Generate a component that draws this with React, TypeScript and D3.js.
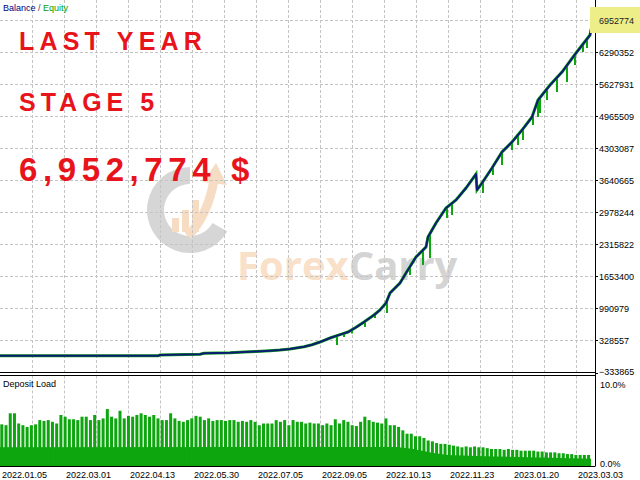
import React from 'react';
import * as d3 from 'd3';

// ---------- data ----------
const dateLabels = ["2022.01.05", "2022.03.01", "2022.04.13", "2022.05.30", "2022.07.05", "2022.09.05", "2022.10.13", "2022.11.23", "2023.01.20", "2023.03.03"];
const dateIdx = [0, 32, 64, 96, 128, 160, 192, 224, 256, 288];

const yTicks = [-333865, 328557, 990979, 1653400, 2315822, 2978244, 3640665, 4303087, 4965509, 5627931, 6290352, 6952774];

const balanceIdx = [0, 40, 79, 80, 100, 102, 115, 122, 128, 135, 140, 145, 152, 156, 160, 165, 170, 174, 178, 182, 187, 190, 193, 195, 200, 203, 208, 213, 214, 218, 223, 228, 233, 238, 238.5, 241, 246, 251, 256, 261, 266, 269, 275, 281, 288, 295, 296.5];
const balanceVal = [10000, 10000, 11000, 28000, 45000, 63000, 75000, 90000, 100000, 117000, 130000, 152000, 199000, 240000, 296000, 379000, 450000, 503000, 600000, 709000, 855000, 960000, 1102000, 1309000, 1516000, 1722000, 2053000, 2260000, 2467000, 2756000, 3066000, 3231000, 3480000, 3769000, 3438000, 3583000, 3893000, 4224000, 4430000, 4678000, 4947000, 5298000, 5608000, 5877000, 6270000, 6642000, 6952774];

const equityDipIdx = [168.5, 172, 176, 182.5, 187.5, 193.5, 205, 211.5, 215, 223.5, 226, 241.5, 246.5, 251, 256, 259, 261.5, 266.5, 269, 270, 273.5, 278.5, 283.5, 287.5, 291.5, 293.5];
const equityDipVal = [234000, 400000, 470000, 606000, 792000, 896000, 1681000, 1888000, 2033000, 2859000, 2921000, 3376000, 3748000, 3955000, 4265000, 4368000, 4471000, 4781000, 4947000, 5030000, 5298000, 5464000, 5670000, 6022000, 6290000, 6373000];

const depositLoad = [
  4.9, 4.8, 6.2, 6.2, 5.0, 4.8, 4.6, 4.8, 4.9, 5.4, 5.3, 5.4, 5.2, 5.0, 6.0, 5.8, 5.5, 5.5, 5.4, 5.8,
  5.8, 5.4, 6.0, 5.4, 5.6, 6.7, 5.8, 5.6, 6.5, 5.6, 5.9, 5.8, 6.0, 6.2, 6.0, 5.8, 6.0, 5.6, 5.4, 5.4,
  6.2, 5.6, 5.3, 5.2, 5.4, 5.6, 5.9, 5.8, 5.4, 5.6, 5.3, 5.4, 5.4, 5.3, 5.4, 5.4, 5.2, 5.3, 5.2, 5.4,
  5.2, 4.8, 5.0, 5.0, 5.0, 5.4, 5.2, 5.4, 4.8, 5.4, 5.2, 5.2, 5.0, 5.1, 5.0,
  5.0, 4.8, 5.0, 4.8, 5.5, 5.0, 5.4, 5.2, 4.8, 4.7, 5.2, 5.8, 5.4, 5.2, 5.1, 5.0, 5.6, 4.8, 4.8, 4.6,
  4.2, 3.8, 3.8, 3.5, 3.5, 3.3, 3.0, 2.9, 2.7, 2.6, 2.6, 2.5, 2.4, 2.3, 2.2, 2.3, 2.2, 2.3, 2.2, 2.2,
  2.1, 2.0, 2.0, 2.0, 1.9, 2.0, 1.9, 1.9, 1.8, 1.8, 1.8, 1.8, 1.7, 1.7, 1.6, 1.6, 1.6, 1.5, 1.5, 1.4,
  1.4, 1.3, 1.3, 1.3, 1.3
];
const depositBaseIdx = [0, 94, 98, 102, 106, 115, 140];
const depositBaseVal = [2.2, 2.25, 2.0, 1.6, 1.3, 1.15, 0.85];
const depositTicks = ["10.0%", "0.0%"];

const FONT = "'Liberation Sans', Arial, sans-serif";

export default function App() {
  const W = 640, H = 480;
  const plotR = 595;
  const mainBottom = 372.5;
  const subTop = 375.5, subBottom = 466;

  const x = d3.scaleLinear().domain([0, 297.5]).range([0, plotR]);
  const y = d3.scaleLinear().domain([yTicks[0], yTicks[yTicks.length - 1]]).range([mainBottom, 20]);
  const balInterp = d3.scaleLinear().domain(balanceIdx).range(balanceVal);

  const balPath = d3.line<number>()
    .x((_, i) => x(balanceIdx[i]))
    .y(d => y(d))(balanceVal) || '';

  const dx = d3.scaleLinear().domain([0, depositLoad.length]).range([0, 591]);
  const dy = d3.scaleLinear().domain([0, 10]).range([subBottom, 381]);
  const baseArea = d3.area<number>()
    .x((_, i) => dx(depositBaseIdx[i]))
    .y0(dy(0))
    .y1(d => dy(d))(depositBaseVal) || '';

  const vGrid = d3.range(16, 297, 16);
  const green = '#0ea60e';

  const ring = d3.arc()({ innerRadius: 26, outerRadius: 43, startAngle: -240 * Math.PI / 180, endAngle: 0 }) || '';

  return (
    <svg width={W} height={H} style={{ position: 'absolute', left: 0, top: 0, background: '#fff' }} fontFamily={FONT}>
      <rect x={0} y={0} width={W} height={H} fill="#fff" />

      {/* watermark */}
      <g>
        <path d={ring} transform="translate(190,210)" fill="#d6d6d6" />
        <rect x={172} y={218} width={7} height={14} fill="#f6dcc2" />
        <rect x={182} y={210} width={7} height={22} fill="#f6dcc2" />
        <rect x={192} y={200} width={7} height={32} fill="#f6dcc2" />
        <path d="M188,236 Q208,215 214,180" fill="none" stroke="#f6dcc2" strokeWidth={9} />
        <path d="M203,182 L216,163 L227,185 Z" fill="#f6dcc2" />
        <text x={237} y={280} fontSize={40} fontWeight="bold" fontFamily="'Open Sans', Arial, sans-serif">
          <tspan fill="#f9e0c8">Forex</tspan><tspan fill="#d4d4d4">Carry</tspan>
        </text>
      </g>

      {/* grids main */}
      {yTicks.slice(1).map((t, i) => (
        <line key={'h' + i} x1={0} x2={plotR} y1={Math.round(y(t)) + 0.5} y2={Math.round(y(t)) + 0.5} stroke="#c4c4c4" strokeDasharray="3,2" />
      ))}
      {vGrid.map((g, i) => (
        <line key={'v' + i} x1={Math.round(x(g)) + 0.5} x2={Math.round(x(g)) + 0.5} y1={0} y2={mainBottom} stroke="#c4c4c4" strokeDasharray="3,2" />
      ))}
      {vGrid.map((g, i) => (
        <line key={'vs' + i} x1={Math.round(x(g)) + 0.5} x2={Math.round(x(g)) + 0.5} y1={subTop} y2={subBottom} stroke="#c4c4c4" strokeDasharray="3,2" />
      ))}

      {/* red titles */}
      <g fill="#e8141c" fontWeight="bold" fontFamily={FONT}>
        <text x={19} y={50} fontSize={25} letterSpacing={5.2}>LAST YEAR</text>
        <text x={19} y={110.5} fontSize={25} letterSpacing={5}>STAGE 5</text>
        <text x={19} y={181} fontSize={33} letterSpacing={5.6}>6,952,774 $</text>
      </g>

      {/* equity */}
      <path d={balPath} fill="none" stroke={green} strokeWidth={3} />
      {equityDipIdx.map((d, i) => (
        <line key={'e' + i} x1={x(d)} x2={x(d)} y1={y(balInterp(d))} y2={y(equityDipVal[i])} stroke={green} strokeWidth={2} />
      ))}
      {/* balance */}
      <path d={balPath} fill="none" stroke="#0c1c74" strokeWidth={2} strokeLinejoin="round" />

      {/* legend */}
      <text x={3} y={11} fontSize={9}>
        <tspan fill="#000080">Balance</tspan><tspan fill="#444"> / </tspan><tspan fill="#00a000">Equity</tspan>
      </text>

      {/* deposit load */}
      <path d={baseArea} fill={green} />
      {depositLoad.map((v, i) => (
        <rect key={'d' + i} x={dx(i) + 0.3} width={3} y={dy(v)} height={dy(0) - dy(v)} fill={green} />
      ))}
      <text x={3} y={387} fontSize={9} fill="#000">Deposit Load</text>

      {/* frame lines */}
      <line x1={0} x2={plotR} y1={mainBottom} y2={mainBottom} stroke="#000" />
      <line x1={0} x2={plotR} y1={subTop} y2={subTop} stroke="#000" />
      <line x1={0} x2={plotR} y1={subBottom + 0.5} y2={subBottom + 0.5} stroke="#000" />
      <line x1={plotR + 0.5} x2={plotR + 0.5} y1={0} y2={subBottom + 0.5} stroke="#000" />

      {/* y axis labels */}
      {yTicks.map((t, i) => (
        <g key={'yt' + i}>
          <line x1={plotR} x2={plotR + 3} y1={Math.round(y(t)) + 0.5} y2={Math.round(y(t)) + 0.5} stroke="#000" />
          <text x={599} y={y(t) + (i === 0 ? 2 : 3.5)} fontSize={9} fill="#000">{d3.format('d')(t)}</text>
        </g>
      ))}
      {/* current value highlight */}
      <rect x={590} y={7} width={50} height={26} fill="#eeee88" />
      <text x={599} y={y(yTicks[yTicks.length - 1]) + 3.5} fontSize={9} fill="#222">{d3.format('d')(yTicks[yTicks.length - 1])}</text>

      {/* deposit axis labels */}
      <text x={600} y={dy(10) + 6.5} fontSize={9} fill="#000">{depositTicks[0]}</text>
      <text x={600} y={dy(0) + 1} fontSize={9} fill="#000">{depositTicks[1]}</text>

      {/* x axis labels */}
      {dateIdx.map((d, i) => (
        <text key={'xt' + i} x={x(d) + 2} y={477.5} fontSize={9} fill="#000">{dateLabels[i]}</text>
      ))}
    </svg>
  );
}
